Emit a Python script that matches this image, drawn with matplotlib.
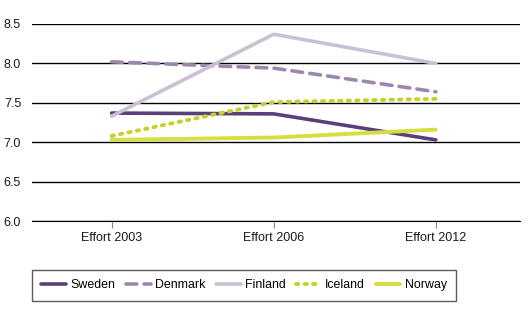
import matplotlib.pyplot as plt

plt.rcParams['font.family'] = ['Liberation Sans', 'DejaVu Sans']

categories = ['Effort 2003', 'Effort 2006', 'Effort 2012']

sweden = [7.37, 7.36, 7.03]
denmark = [8.02, 7.94, 7.64]
finland = [7.33, 8.37, 8.00]
iceland = [7.08, 7.51, 7.55]
norway = [7.03, 7.06, 7.16]

fig = plt.figure(figsize=(5.28, 3.33), dpi=100)
ax = fig.add_axes([0.061, 0.336, 0.924, 0.592])

x = range(len(categories))
ax.plot(x, sweden, color='#5b3f78', lw=2.6, label='Sweden', solid_capstyle='round')
ax.plot(x, denmark, color='#9c88ae', lw=2.6, ls=(0, (3, 2)), label='Denmark', dash_capstyle='round')
ax.plot(x, finland, color='#c9c0d4', lw=2.6, label='Finland', solid_capstyle='round')
ax.plot(x, iceland, color='#c3d12a', lw=2.8, ls=(0, (0.6, 1.6)), label='Iceland', dash_capstyle='round')
ax.plot(x, norway, color='#d6de40', lw=2.8, label='Norway', solid_capstyle='round')

ax.set_xlim(-0.49, 2.52)
ax.set_ylim(6.0, 8.5)
ax.set_yticks([6.0, 6.5, 7.0, 7.5, 8.0, 8.5])
ax.set_yticklabels(['6.0', '6.5', '7.0', '7.5', '8.0', '8.5'])
ax.set_xticks(list(x))
ax.set_xticklabels(categories)
ax.grid(axis='y', color='black', lw=1.0)
ax.set_axisbelow(True)
for s in ['top', 'right', 'left']:
    ax.spines[s].set_visible(False)
ax.spines['bottom'].set_color('black')
ax.tick_params(axis='y', length=0, labelsize=9, pad=8, colors='#1a1a1a')
ax.tick_params(axis='x', length=5, color='#888888', labelsize=9, pad=3, colors='#1a1a1a')

leg = ax.legend(loc='upper left', bbox_to_anchor=(0.0, -0.248), ncol=5, frameon=True,
                fontsize=8.9, handlelength=2.0, columnspacing=0.85, handletextpad=0.35,
                borderpad=0.75, borderaxespad=0, fancybox=False)
leg.get_frame().set_edgecolor('#333333')
leg.get_frame().set_linewidth(1.0)

fig.savefig('out.png', dpi=100)
